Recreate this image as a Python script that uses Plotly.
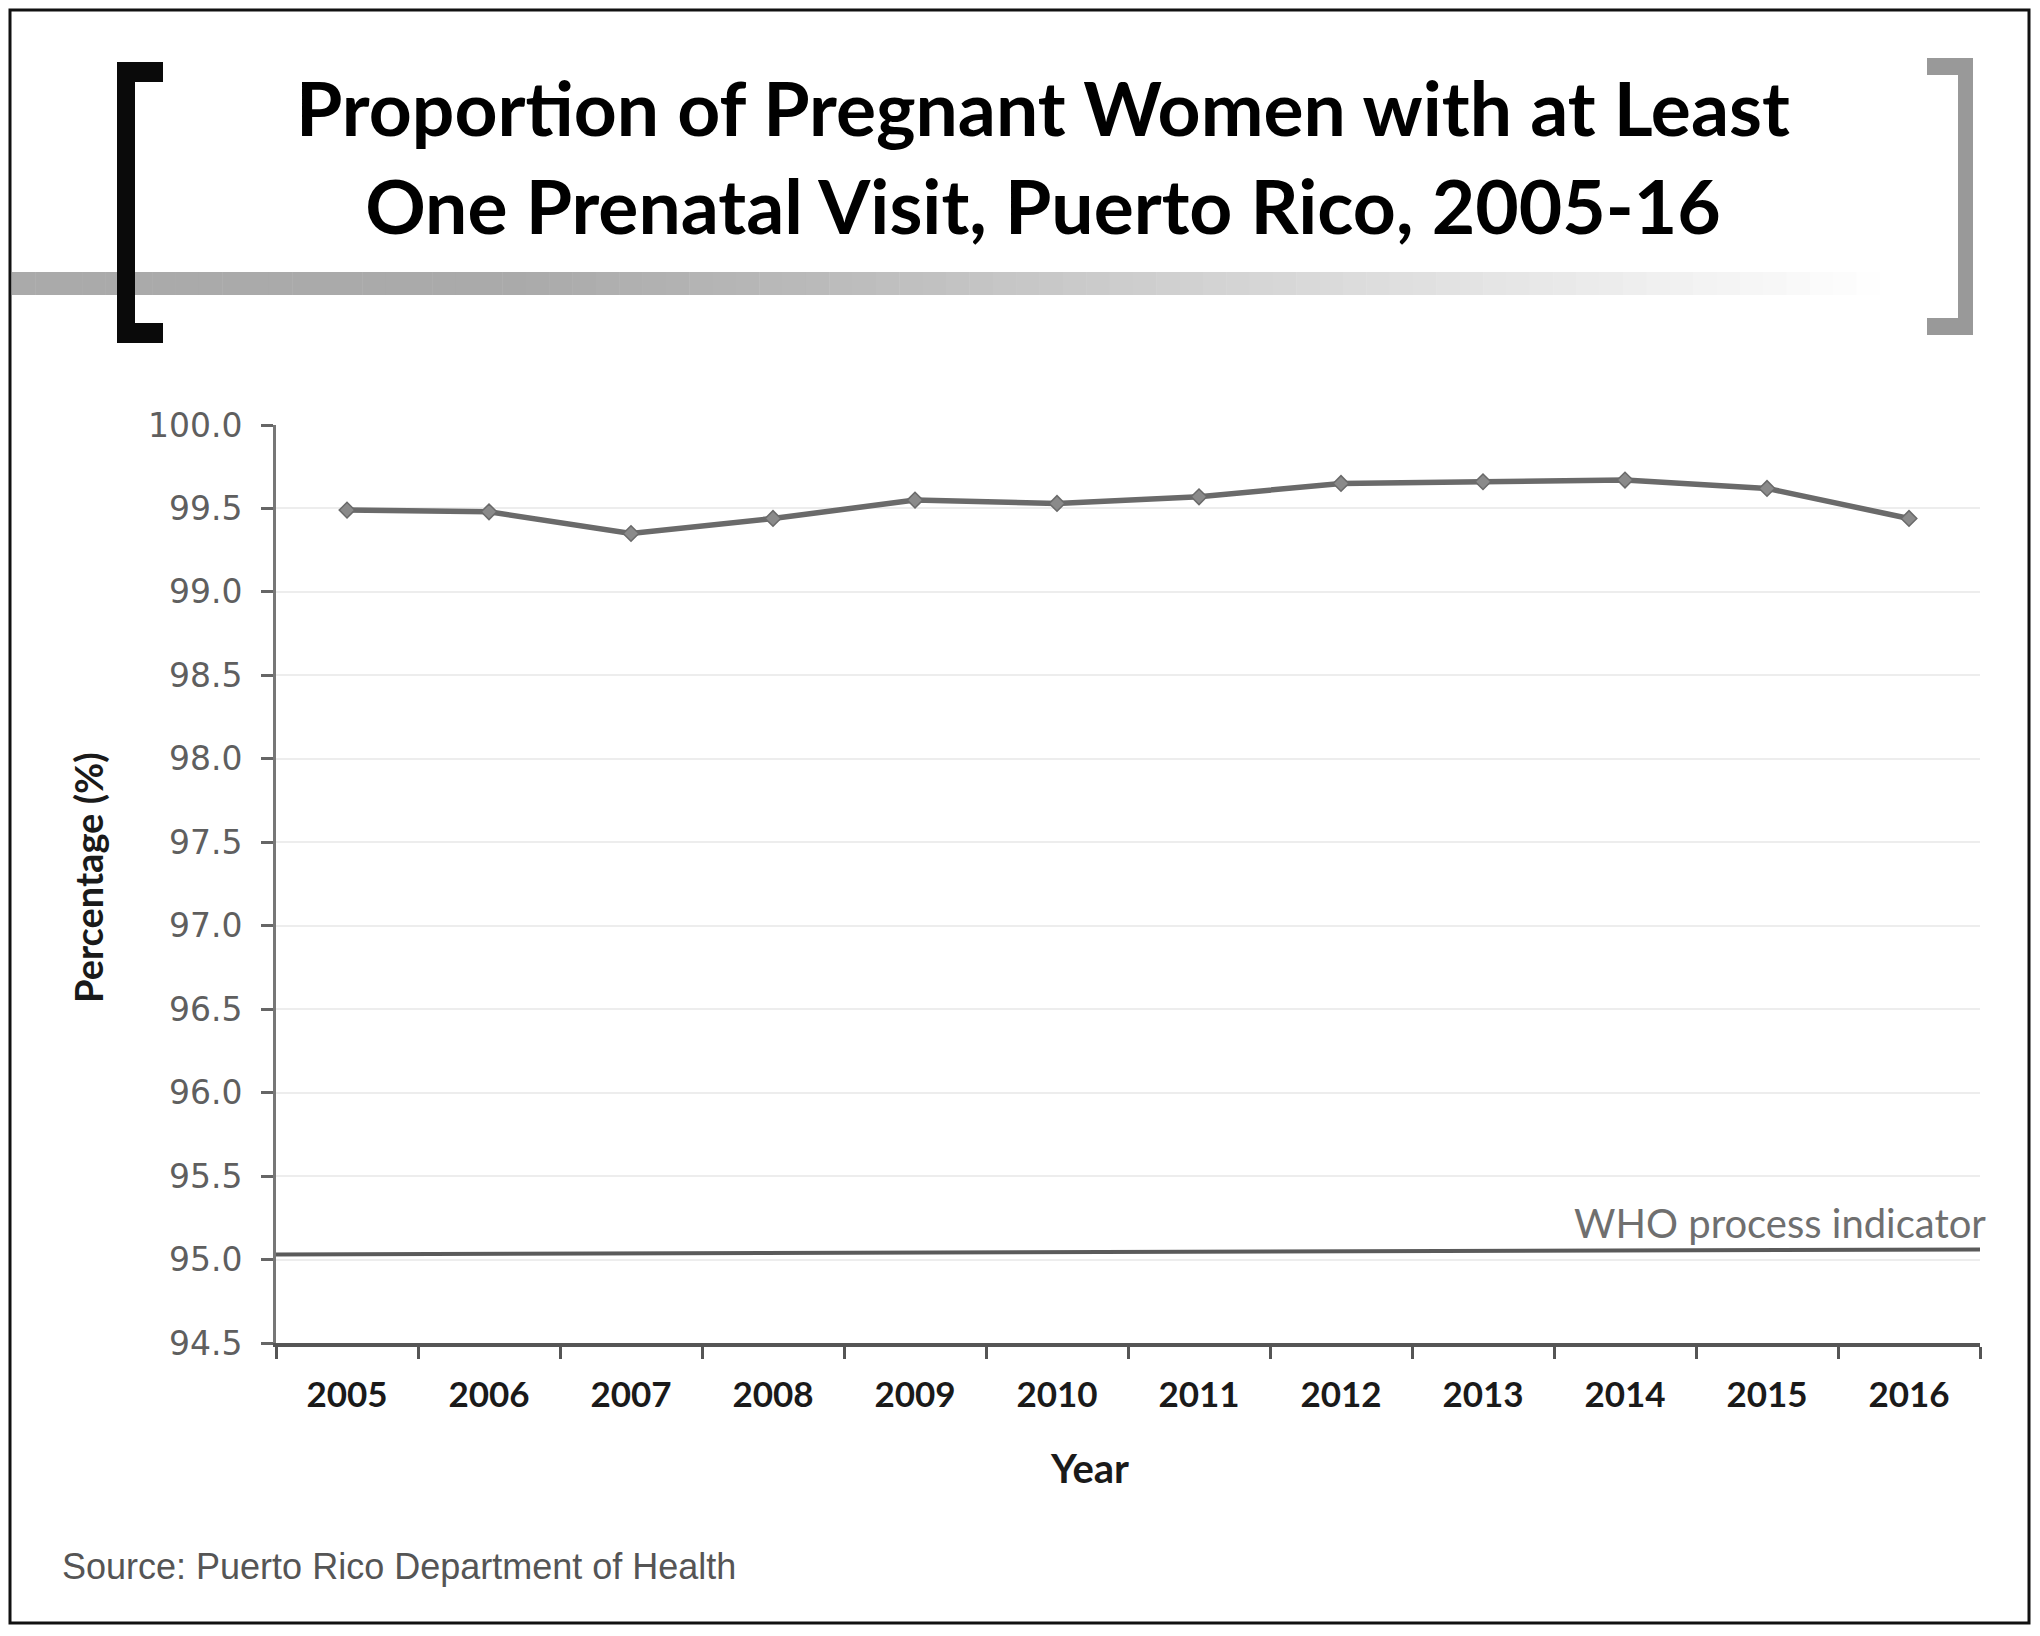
import plotly.graph_objects as go

# ---- data ----
years = ["2005", "2006", "2007", "2008", "2009", "2010",
         "2011", "2012", "2013", "2014", "2015", "2016"]
pct = [99.49, 99.48, 99.35, 99.44, 99.55, 99.53,
       99.57, 99.65, 99.66, 99.67, 99.62, 99.44]
who_start = 95.03
who_end = 95.06
who_label = "WHO process indicator"
y_ticks = [94.5, 95.0, 95.5, 96.0, 96.5, 97.0, 97.5, 98.0, 98.5, 99.0, 99.5, 100.0]
title_text = "Proportion of Pregnant Women with at Least<br>One Prenatal Visit, Puerto Rico, 2005-16"
source_text = "Source: Puerto Rico Department of Health"

# ---- layout geometry (page pixels; page body has an 8px margin) ----
OFF = 8
W, H = 2040 - 2 * OFF, 1636 - 2 * OFF
L, R, T, B = 276, 1980, 425, 1343   # plot area in page pixels


def xp(px):
    return (px - L) / (R - L)


def yp(py):
    return (B - py) / (B - T)


fig = go.Figure()

fig.add_trace(go.Scatter(
    x=years, y=pct, mode="lines+markers",
    line=dict(color="#6a6a6a", width=5.5),
    marker=dict(symbol="diamond", size=12, color="#8a8a8a",
                line=dict(color="#6a6a6a", width=1.5)),
    showlegend=False, hoverinfo="x+y",
))

shapes = []
# WHO reference line
shapes.append(dict(type="line", xref="paper", yref="y",
                   x0=0, x1=1, y0=who_start, y1=who_end,
                   line=dict(color="#5a5a5a", width=4), layer="above"))

# outer frame
shapes.append(dict(type="rect", xref="paper", yref="paper",
                   x0=xp(10), x1=xp(2029), y0=yp(10), y1=yp(1623),
                   line=dict(color="#111111", width=3), fillcolor="rgba(0,0,0,0)"))

# gradient band under the title
N = 80
x_start, x_end = 12, 1880
dx = (x_end - x_start) / N
for i in range(N):
    xa = x_start + i * dx
    xm = xa + dx / 2
    t = max(0.0, (xm - 500) / (x_end - 500))
    lev = int(170 + (255 - 170) * min(1.0, t ** 1.1))
    c = f"rgb({lev},{lev},{lev})"
    shapes.append(dict(type="rect", xref="paper", yref="paper",
                       x0=xp(xa), x1=xp(xa + dx + 0.5), y0=yp(272), y1=yp(295),
                       line=dict(width=0), fillcolor=c, layer="below"))

# left black bracket
for (x0, x1, y0, y1) in [(117, 135, 62, 343), (117, 163, 62, 82), (117, 163, 323, 343)]:
    shapes.append(dict(type="rect", xref="paper", yref="paper",
                       x0=xp(x0), x1=xp(x1), y0=yp(y0), y1=yp(y1),
                       line=dict(width=0), fillcolor="#0a0a0a"))
# right gray bracket
for (x0, x1, y0, y1) in [(1958, 1973, 58, 335), (1927, 1973, 58, 75), (1927, 1973, 318, 335)]:
    shapes.append(dict(type="rect", xref="paper", yref="paper",
                       x0=xp(x0), x1=xp(x1), y0=yp(y0), y1=yp(y1),
                       line=dict(width=0), fillcolor="#999999"))

annotations = [
    dict(text=title_text, xref="paper", yref="paper", x=xp(1043), y=yp(156),
         xanchor="center", yanchor="middle", showarrow=False,
         font=dict(family="Lato", size=75, color="#000000", weight="bold")),
    dict(text=who_label, xref="paper", yref="paper", x=xp(1988), y=yp(1223),
         xanchor="right", yanchor="middle", showarrow=False,
         font=dict(family="Lato", size=40, color="#6f6f6f")),
    dict(text=source_text, xref="paper", yref="paper", x=xp(60), y=yp(1566),
         xanchor="left", yanchor="middle", showarrow=False,
         font=dict(family="Liberation Sans", size=36, color="#555555")),
    dict(text="Percentage (%)", xref="paper", yref="paper", x=xp(88), y=yp(878),
         xanchor="center", yanchor="middle", showarrow=False, textangle=-90,
         font=dict(family="Lato", size=38, color="#1a1a1a", weight="bold")),
    dict(text="Year", xref="paper", yref="paper", x=xp(1089), y=yp(1468),
         xanchor="center", yanchor="middle", showarrow=False,
         font=dict(family="Lato", size=40, color="#1a1a1a", weight="bold")),
]

fig.update_layout(
    width=W, height=H,
    margin=dict(l=L - OFF, r=W - (R - OFF), t=T - OFF, b=H - (B - OFF), pad=0),
    paper_bgcolor="white", plot_bgcolor="white",
    shapes=shapes, annotations=annotations,
    xaxis=dict(
        type="category", range=[-0.5, 11.5],
        tickson="boundaries", ticks="outside", ticklen=12, tickwidth=3,
        tickcolor="#555555", showline=True, linecolor="#555555", linewidth=4,
        showgrid=False, zeroline=False,
        tickfont=dict(family="Lato", size=35, color="#1a1a1a", weight="bold"),
        ticklabelstandoff=18,
    ),
    yaxis=dict(
        range=[94.5, 100.0], tickvals=y_ticks,
        ticktext=[f"{v:.1f}" for v in y_ticks],
        ticks="outside", ticklen=12, tickwidth=3, tickcolor="#666666",
        showline=True, linecolor="#777777", linewidth=3,
        showgrid=True, gridcolor="#ededed", gridwidth=1.5, zeroline=False,
        tickfont=dict(family="DejaVu Sans", size=33, color="#5f5f5f"),
        ticklabelstandoff=12,
    ),
)

fig.write_html("out.html")
